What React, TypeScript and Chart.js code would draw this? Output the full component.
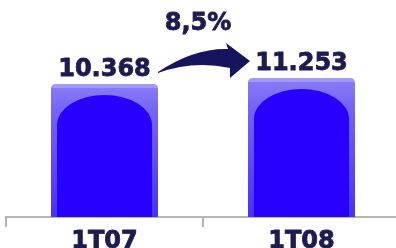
import React, { useEffect, useRef } from "react";
import { Chart, registerables } from "chart.js";

Chart.register(...registerables);

const categories = ["1T07", "1T08"];
const values = [10368, 11253];
const valueLabels = ["10.368", "11.253"];
const growthLabel = "8,5%";
const axisMin = -9250;
const axisMax = 22760;

const TEXT = "#1d1b50";
const FONT = "bold 24px 'DejaVu Sans', Verdana, sans-serif";

const barDecor = {
  id: "barDecor",
  afterDatasetsDraw(chart: any) {
    const ctx = chart.ctx;
    const meta = chart.getDatasetMeta(0);
    meta.data.forEach((el: any) => {
      const w = el.width;
      const left = el.x - w / 2;
      const right = el.x + w / 2;
      const top = el.y;
      const bottom = el.base;
      const r = 5;
      ctx.save();
      ctx.beginPath();
      ctx.moveTo(left, bottom);
      ctx.lineTo(left, top + r);
      ctx.quadraticCurveTo(left, top, left + r, top);
      ctx.lineTo(right - r, top);
      ctx.quadraticCurveTo(right, top, right, top + r);
      ctx.lineTo(right, bottom);
      ctx.closePath();
      ctx.clip();
      const g = ctx.createLinearGradient(0, top, 0, bottom);
      g.addColorStop(0, "#8a7ef5");
      g.addColorStop(0.2, "#7565f6");
      g.addColorStop(1, "#4630fc");
      ctx.fillStyle = g;
      ctx.fillRect(left, top, w, bottom - top);
      ctx.fillStyle = "rgba(255,255,255,0.22)";
      ctx.fillRect(left, top, w, 4);
      const inset = 6;
      const rx = w / 2 - inset;
      const ry = 30;
      const cy = top + 11 + ry;
      ctx.beginPath();
      ctx.moveTo(left + inset, bottom);
      ctx.lineTo(left + inset, cy);
      ctx.ellipse(el.x, cy, rx, ry, 0, Math.PI, 2 * Math.PI);
      ctx.lineTo(right - inset, bottom);
      ctx.closePath();
      ctx.fillStyle = "#2800fe";
      ctx.fill();
      ctx.restore();
    });
  },
  afterDraw(chart: any) {
    const ctx = chart.ctx;
    const meta = chart.getDatasetMeta(0);
    ctx.save();
    ctx.font = FONT;
    ctx.fillStyle = TEXT;
    ctx.strokeStyle = TEXT;
    ctx.lineWidth = 0.8;
    ctx.textAlign = "center";
    ctx.textBaseline = "alphabetic";
    meta.data.forEach((el: any, i: number) => {
      ctx.fillText(valueLabels[i], el.x, el.y - 8);
      ctx.strokeText(valueLabels[i], el.x, el.y - 8);
    });
    const b1 = meta.data[0];
    const b2 = meta.data[1];
    if (b1 && b2) {
      const x1 = b1.x + b1.width / 2;
      const y1 = b1.y - 12;
      const x2 = b2.x - b2.width / 2 + 2;
      const y2 = b2.y - 17;
      const midX = (x1 + x2) / 2 - 6;
      ctx.fillText(growthLabel, midX, 30);
      ctx.strokeText(growthLabel, midX, 30);
      ctx.fillStyle = "#15145c";
      ctx.beginPath();
      ctx.moveTo(x1, y1);
      ctx.quadraticCurveTo(x1 + 36, y1 - 24, x2 - 22, y2 - 12);
      ctx.lineTo(x2 - 24, y2 - 18);
      ctx.lineTo(x2, y2);
      ctx.lineTo(x2 - 20, y2 + 17);
      ctx.lineTo(x2 - 20, y2 + 7);
      ctx.quadraticCurveTo(x1 + 35, y1 - 12, x1, y1 + 1);
      ctx.closePath();
      ctx.fill();
    }
    ctx.restore();
  },
};

export default function App() {
  const ref = useRef<HTMLCanvasElement>(null);
  useEffect(() => {
    const chart = new Chart(ref.current!, {
      type: "bar",
      data: {
        labels: categories,
        datasets: [
          {
            data: values,
            base: axisMin,
            backgroundColor: "rgba(0,0,0,0)",
            barThickness: 107,
          } as any,
        ],
      },
      options: {
        animation: false,
        responsive: false,
        maintainAspectRatio: false,
        layout: { padding: { left: 6, right: 0, top: 0, bottom: 0 } },
        plugins: { legend: { display: false }, tooltip: { enabled: false } },
        scales: {
          y: { display: false, min: axisMin, max: axisMax },
          x: {
            offset: true,
            afterFit: (scale: any) => {
              scale.height = 37;
            },
            border: { display: true, color: "#b4b4b4", width: 2 },
            grid: {
              offset: true,
              drawOnChartArea: false,
              drawTicks: true,
              tickLength: 10,
              color: "#b4b4b4",
              lineWidth: 2,
            },
            ticks: {
              padding: 0,
              color: TEXT,
              textStrokeColor: TEXT,
              textStrokeWidth: 0.8,
              font: { family: "'DejaVu Sans', Verdana, sans-serif", size: 24, weight: "bold" },
            } as any,
          },
        },
      },
      plugins: [barDecor],
    });
    return () => chart.destroy();
  }, []);
  return (
    <div style={{ position: "fixed", left: 0, top: 0, width: 400, height: 254, background: "#fff" }}>
      <canvas ref={ref} width={400} height={254} style={{ width: 400, height: 254, display: "block" }} />
    </div>
  );
}
